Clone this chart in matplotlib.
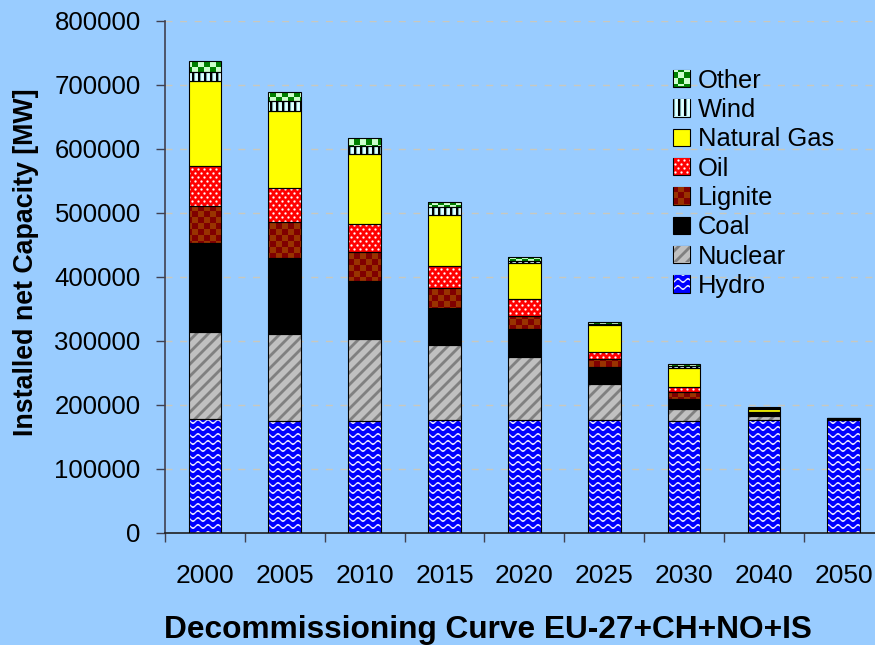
import numpy as np
import matplotlib
matplotlib.use("Agg")
import matplotlib.pyplot as plt
from matplotlib.path import Path
from matplotlib.patches import Rectangle

plt.rcParams["font.family"] = ["Liberation Sans", "DejaVu Sans"]

# Installed net capacity [MW] remaining from today's fleet, per year
years = ["2000", "2005", "2010", "2015", "2020", "2025", "2030", "2040", "2050"]
hydro   = [177000, 175000, 175000, 176000, 176000, 176000, 175000, 175500, 175500]
nuclear = [137000, 135000, 127000, 117000,  98000,  57000,  19000,   7000,      0]
coal    = [139000, 119000,  91000,  58000,  44000,  26000,  15500,   5000,   2500]
lignite = [ 58000,  56000,  45000,  31000,  20000,  12000,  10500,    500,      0]
oil     = [ 62000,  53000,  44000,  34000,  27000,  11000,   8000,    500,      0]
gas     = [133000, 121000, 109000,  80000,  56000,  43000,  30000,   5000,    500]
wind    = [ 14000,  15000,  14000,  13000,   3000,   1500,   3000,   1000,    500]
other   = [ 17000,  14000,  11000,   8000,   7000,   2500,   2000,   1500,    500]

series = [("Hydro", hydro), ("Nuclear", nuclear), ("Coal", coal),
          ("Lignite", lignite), ("Oil", oil), ("Natural Gas", gas),
          ("Wind", wind), ("Other", other)]

face = {"Hydro": "#0000FF", "Nuclear": "#C0C0C0", "Coal": "#000000",
        "Lignite": "#993300", "Oil": "#FF0000", "Natural Gas": "#FFFF00",
        "Wind": "#CCFFFF", "Other": "#008000"}
patterned = {"Hydro", "Nuclear", "Lignite", "Oil", "Wind", "Other"}

BG = "#99CCFF"
FIG_W, FIG_H = 875, 645


def texture(kind, h, w, ox=0, oy=0):
    """Pixel fill pattern (RGB uint8), coordinates in screen pixels (row down)."""
    y, x = np.mgrid[0:h, 0:w].astype(float)
    x += ox
    y += oy

    def mix(base, top, a):
        base = np.asarray(base, float)[None, None, :]
        top = np.asarray(top, float)[None, None, :]
        a = a[..., None]
        return base * (1 - a) + top * a

    if kind == "Hydro":
        d = (y - 1.6 * np.sin(2 * np.pi * x / 10.0)) % 7.0
        d = np.minimum(d, 7.0 - d)
        a = np.clip(1.4 - d, 0, 1)
        img = mix((0, 0, 255), (235, 235, 255), a)
    elif kind == "Nuclear":
        d = (x + y) % 12.0
        d = np.minimum(d, 12.0 - d)
        a = np.clip(2.5 - d, 0, 1)
        img = mix((192, 192, 192), (128, 128, 128), a)
    elif kind == "Lignite":
        a = ((np.floor(x / 6) + np.floor(y / 6)) % 2).astype(float)
        img = mix((153, 51, 0), (128, 0, 0), a)
    elif kind == "Oil":
        dx1 = ((x + 3) % 6) - 3
        dy1 = ((y + 4) % 8) - 4
        dx2 = (x % 6) - 3
        dy2 = (y % 8) - 4
        dist = np.minimum(np.hypot(dx1, dy1), np.hypot(dx2, dy2))
        a = np.clip(1.6 - dist, 0, 1)
        img = mix((255, 0, 0), (255, 255, 255), a)
    elif kind == "Wind":
        cols = np.array([[0, 0, 0], [0, 0, 0], [120, 160, 160],
                         [204, 255, 255], [235, 255, 255], [204, 255, 255]], float)
        img = cols[(x.astype(int) % 6)]
    elif kind == "Other":
        a = ((np.floor(x / 6) + np.floor(y / 6)) % 2).astype(float)
        img = mix((0, 128, 0), (204, 255, 204), a)
    else:
        img = np.zeros((h, w, 3))
    return np.clip(img, 0, 255).astype(np.uint8)


fig = plt.figure(figsize=(FIG_W / 100, FIG_H / 100), dpi=100, facecolor=BG)

# plot area in pixels
ax_x0, ax_y0 = 165.0, 112.3          # left, bottom (from bottom edge)
step = 79.85                           # width of one category
ax_w, ax_h = 9 * step, 512.0
ax = fig.add_axes([ax_x0 / FIG_W, ax_y0 / FIG_H, ax_w / FIG_W, ax_h / FIG_H],
                  facecolor=BG)

xpos = np.arange(len(years))
width = 0.41
ymax = 800000
tex_w, tex_h = int(round(ax_w)), int(round(ax_h))
tex_ox, tex_oy = int(ax_x0), int(FIG_H - ax_y0 - ax_h)

bottom = np.zeros(len(years))
for name, vals in series:
    vals = np.asarray(vals, float)
    bars = ax.bar(xpos, vals, width=width, bottom=bottom, color=face[name],
                  edgecolor="none", zorder=2)
    if name in patterned:
        tex = texture(name, tex_h, tex_w, tex_ox, tex_oy)
        im = ax.imshow(tex, extent=(-0.5, 8.5, 0, ymax), origin="upper",
                       aspect="auto", interpolation="nearest", zorder=2.2)
        clip = Path.make_compound_path(
            *[b.get_path().transformed(b.get_patch_transform()) for b in bars])
        im.set_clip_path(clip, ax.transData)
    ax.bar(xpos, vals, width=width, bottom=bottom, fill=False,
           edgecolor="black", linewidth=0.8, zorder=3)
    bottom += vals

ax.set_xlim(-0.5, 8.5)
ax.set_ylim(0, ymax)

ax.set_yticks(np.arange(0, ymax + 1, 100000))
ax.yaxis.set_major_formatter(lambda v, p: f"{int(v)}")
ax.set_xticks(xpos)
ax.set_xticklabels(years)
ax.set_xticks(np.arange(-0.5, 9.0, 1.0), minor=True)

ax.tick_params(axis="x", which="major", length=0, pad=22.5, labelsize=19)
ax.tick_params(axis="x", which="minor", length=6.5, width=1.0, color="#404050",
               direction="out")
ax.tick_params(axis="y", which="major", length=6.5, width=1.0, color="#404050",
               pad=11, labelsize=18.5, direction="out")

ax.yaxis.grid(True, color="#C8C8BE", linestyle=(0, (5, 5.5)), linewidth=1.0)
ax.set_axisbelow(True)

for s in ("top", "right"):
    ax.spines[s].set_visible(False)
ax.spines["left"].set_color("#404050")
ax.spines["left"].set_linewidth(1.2)
ax.spines["bottom"].set_color("#202020")
ax.spines["bottom"].set_linewidth(1.2)

fig.text(26 / FIG_W, 1 - 262 / FIG_H, "Installed net Capacity [MW]",
         rotation=90, ha="center", va="center", fontsize=19.3, fontweight="bold")
fig.text(487.5 / FIG_W, 7 / FIG_H, "Decommissioning Curve EU-27+CH+NO+IS",
         ha="center", va="baseline", fontsize=22.8, fontweight="bold")

# legend, top entry = top of stack
leg_names = [n for n, _ in series][::-1]
handles = [Rectangle((0, 0), 1, 1, facecolor=face[n], edgecolor="black",
                     linewidth=0.8) for n in leg_names]
leg = fig.legend(handles, leg_names, loc="upper left",
                 bbox_to_anchor=(673 / FIG_W, 1 - 68.5 / FIG_H),
                 frameon=False, fontsize=18.4, handlelength=0.66,
                 handleheight=0.66, handletextpad=0.3, labelspacing=0.21,
                 borderpad=0, borderaxespad=0)

# fill the legend keys with the same pixel patterns as the bars
fig.canvas.draw()
for name, h in zip(leg_names, leg.legend_handles):
    if name not in patterned:
        continue
    bb = h.get_window_extent()
    x0 = int(round(bb.x0)) + 1
    y0 = int(round(bb.y0)) + 1
    ww = int(round(bb.x1)) - x0
    hh = int(round(bb.y1)) - y0
    if ww <= 0 or hh <= 0:
        continue
    tex = texture(name, hh, ww, x0, FIG_H - (y0 + hh))
    fig.figimage(tex, xo=x0, yo=y0, origin="upper", zorder=10)

fig.savefig("out.png", dpi=100, facecolor=BG)
